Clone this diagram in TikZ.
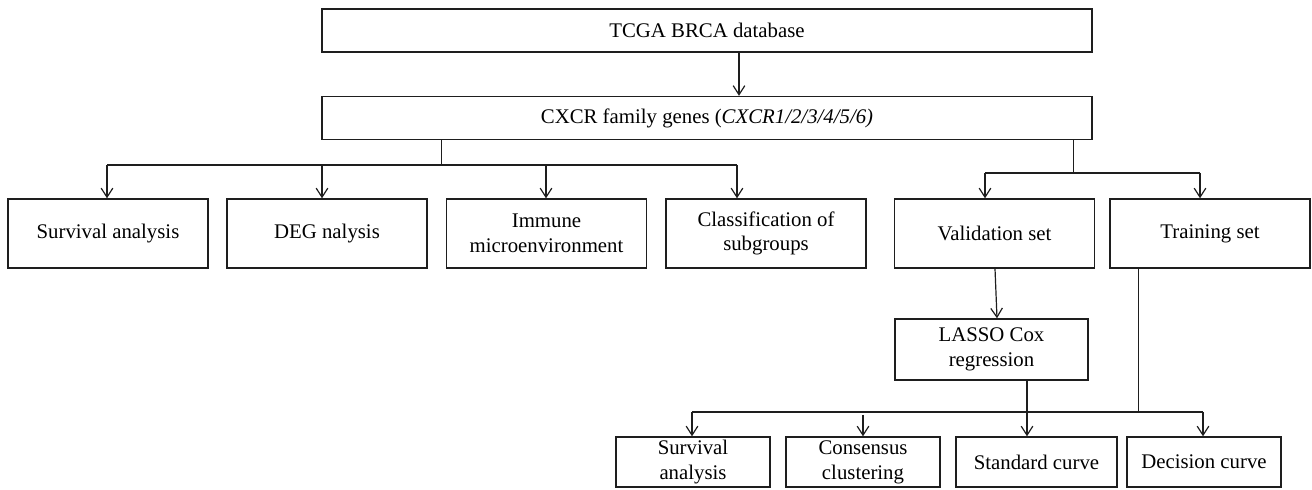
\documentclass[tikz,border=0pt]{standalone}
\usepackage{fontspec}
\setmainfont{Liberation Serif}
\usepackage{tikz}
\usetikzlibrary{arrows.meta}
\definecolor{ink}{RGB}{30,30,30}

\begin{document}
\begin{tikzpicture}[
  x=0.5pt, y=-0.5pt,
  font=\fontsize{10.4}{12.4}\selectfont,
  box/.style={draw=ink, line width=0.7pt, align=center, inner sep=0pt, minimum width=#1},
  box/.default=100pt,
  rowA/.style={minimum height=21.5pt},
  rowB/.style={minimum height=34.5pt},
  rowC/.style={minimum height=25pt},
  link/.style={draw=ink, line width=0.45pt},
  arr/.style={link, line width=0.6pt, -{Straight Barb[length=4.5pt, width=5.8pt]}},
]
\useasboundingbox (0,0) rectangle (1312,490);

% ---- head ----
\node[box=385pt, rowA] (tcga) at (707,30.5) {TCGA BRCA database};
\node[box=385pt, rowA] (cxcr) at (707,118) {CXCR family genes (\textit{CXCR1/2/3/4/5/6)}};

% ---- analyses row ----
\node[box, rowB] (surv)    at (108,233.5) {Survival analysis};
\node[box, rowB] (deg)     at (327,233.5) {DEG nalysis};
\node[box, rowB] (immune)  at (546.5,233.5) {Immune\\microenvironment};
\node[box, rowB] (classif) at (766,233.5) {Classification of\\subgroups};
\node[box, rowB] (valid)   at (994.5,233.5) {Validation set};
\node[box, rowB] (train)   at (1210,233.5) {Training set};

% ---- model ----
\node[box=96.5pt, minimum height=30.5pt] (lasso) at (991.5,349.5) {LASSO Cox\\regression};

% ---- outputs row ----
\node[box=77pt, rowC] (survB)     at (693,462) {Survival\\analysis};
\node[box=77pt, rowC] (consensus) at (863,462) {Consensus\\clustering};
\node[box=80.5pt, rowC] (standard) at (1036.5,462) {Standard curve};
\node[box=77pt, rowC] (decision)  at (1204,462) {Decision curve};

% ---- junctions ----
\coordinate (splitL) at (441,165);
\coordinate (splitR) at (1073,173);
\coordinate (splitB) at (1138,412);
\coordinate (a1) at (107,165);
\coordinate (a2) at (322,165);
\coordinate (a3) at (546,165);
\coordinate (a4) at (737,165);
\coordinate (a5) at (985,173);
\coordinate (a6) at (1200,173);
\coordinate (b1) at (692,412);
\coordinate (b2) at (863,415);
\coordinate (b3) at (1027,412);
\coordinate (b4) at (1203,412);

% ---- connectors ----
\draw[arr] (tcga.south -| 739,0) -- (cxcr.north -| 739,0);

\draw[link] (cxcr.south -| splitL) -- (splitL);
\draw[link, line width=0.6pt] (a1) -- (a4);
\foreach \p/\n in {a1/surv, a2/deg, a3/immune, a4/classif}
  \draw[arr] (\p) -- (\p |- \n.north);

\draw[link] (cxcr.south -| splitR) -- (splitR);
\draw[link, line width=0.6pt] (a5) -- (a6);
\draw[arr] (a5) -- (a5 |- valid.north);
\draw[arr] (a6) -- (a6 |- train.north);

\draw[arr] (valid.south -| 995,0) -- (lasso.north -| 997,0);

\draw[link, line width=0.6pt] (b1) -- (b4);
\draw[link] (train.south -| splitB) -- (splitB);
\draw[arr] (lasso.south -| b3) -- (b3 |- standard.north);
\draw[arr] (b1) -- (b1 |- survB.north);
\draw[arr] (b2) -- (b2 |- consensus.north);
\draw[arr] (b4) -- (b4 |- decision.north);

\end{tikzpicture}
\end{document}
